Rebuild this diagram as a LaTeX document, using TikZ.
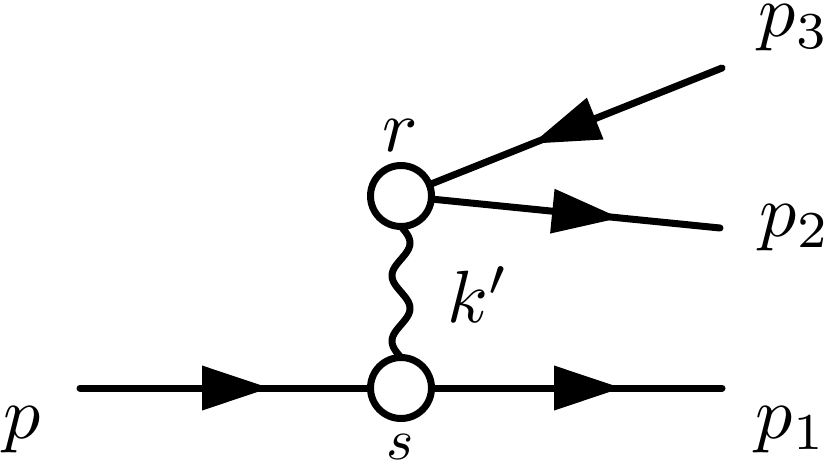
\documentclass[tikz,border=0pt]{standalone}
\usetikzlibrary{arrows.meta,decorations.markings}
\newcommand{\labbig}[1]{\scalebox{7.4}{$#1$}}
\newcommand{\labsmall}[1]{\scalebox{5.8}{$#1$}}
\begin{document}
\begin{tikzpicture}[x=1pt,y=-1pt,
  vertex/.style={circle,draw,line width=7pt,fill=white,minimum size=61pt,inner sep=0pt,outer sep=0pt},
  fermion/.style={line width=7pt,line cap=round},
  tri/.tip={Triangle[length=68pt,width=43pt]},
  lab/.style={inner sep=0pt,anchor=base},
  photon/.style={line width=7pt,line cap=round}]
\useasboundingbox (0,0) rectangle (830,468);
\node[vertex] (s) at (401,388) {};
\node[vertex] (r) at (401,196) {};
\coordinate (pin) at (80,388);
\coordinate (p1end) at (722,388);
\coordinate (p2end) at (720,228);
\coordinate (p3end) at (722,68);
\draw[fermion,postaction={decorate,decoration={markings,mark=at position 190pt with {\arrow{tri}}}}] (pin) -- (s);
\draw[fermion,postaction={decorate,decoration={markings,mark=at position -100pt with {\arrow{tri}}}}] (s) -- (p1end);
\draw[fermion,postaction={decorate,decoration={markings,mark=at position -100.5pt with {\arrow{tri}}}}] (r) -- (p2end);
\draw[fermion,postaction={decorate,decoration={markings,mark=at position 204.5pt with {\arrow{tri}}}}] (p3end) -- (r);
\draw[photon,shift={(r.south)}] plot[domain=0:1,samples=120,smooth] ({9*sin(720*\x)},{131*\x});
\node[lab] (lp) at (22,438) {\labbig{p}};
\node[lab] (lp1) at (791,438) {\labbig{p_1}};
\node[lab] (lp2) at (795,236) {\labbig{p_2}};
\node[lab] (lp3) at (794,37) {\labbig{p_3}};
\node[lab] (lr) at (400,152) {\labbig{r}};
\node[lab] (ls) at (400,459) {\labsmall{s}};
\node[lab,anchor=base west] (lk) at (447,322) {\labbig{k'}};
\end{tikzpicture}
\end{document}
